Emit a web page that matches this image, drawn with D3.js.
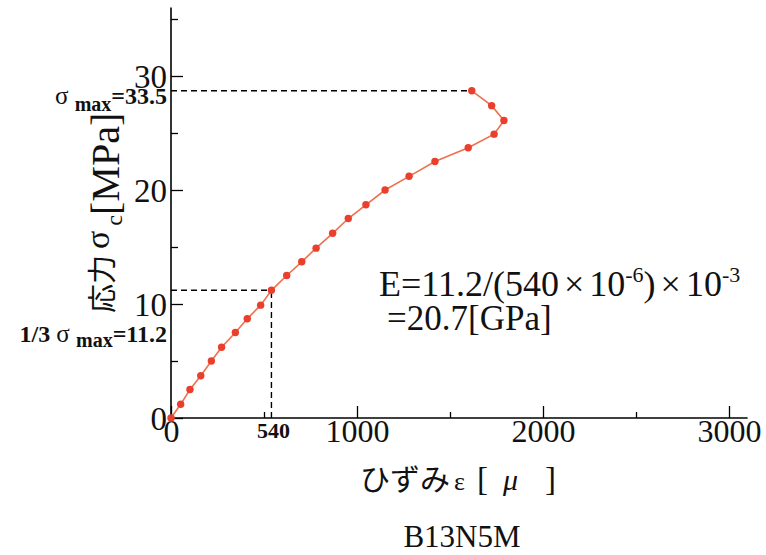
<!DOCTYPE html>
<html><head><meta charset="utf-8">
<script src="https://cdn.jsdelivr.net/npm/d3@7"></script>
<style>
html,body{margin:0;padding:0;background:#fff;}
svg{display:block;}
</style>
</head><body>
<svg id="chart" width="766" height="555"></svg>
<script>
// ---- data ----
const strain = [0, 52, 102, 160, 217, 272, 346, 410, 482, 540, 622, 703, 780, 869, 953, 1048, 1151, 1280, 1419, 1598, 1737, 1790, 1724, 1617];
const stress = [0, 1.2, 2.5, 3.7, 5.0, 6.2, 7.5, 8.7, 9.9, 11.2, 12.5, 13.7, 14.9, 16.2, 17.5, 18.7, 20.0, 21.2, 22.5, 23.7, 24.9, 26.1, 27.4, 28.7];
const xMajorTicks = [0, 1000, 2000, 3000];
const xMinorTicks = [500, 1500, 2500];
const yMajorTicks = [0, 10, 20, 30];
const yMinorTicks = [5, 15, 25, 35];
const sigmaMaxLabel = "33.5";
const thirdSigmaLabel = "11.2";
const strainAtThird = 540;
const stressAtThird = 11.2;
const specimen = "B13N5M";

const serif = "'Liberation Serif','Times New Roman',serif";
const cjk = "'Noto Sans CJK JP',sans-serif";

const svg = d3.select("#chart");
const x = d3.scaleLinear([0, 3000], [171, 729]);
const y = d3.scaleLinear([0, 35], [418, 19]);

// axis lines
svg.append("line").attr("x1", x(0)).attr("x2", x(3100)).attr("y1", y(0)).attr("y2", y(0))
  .attr("stroke", "#000").attr("stroke-width", 1.6);
svg.append("line").attr("x1", x(0)).attr("x2", x(0)).attr("y1", y(0)).attr("y2", y(36))
  .attr("stroke", "#000").attr("stroke-width", 1.6);

// x axis
const gx = svg.append("g").attr("transform", `translate(0,${y(0)})`)
  .call(d3.axisBottom(x).tickValues(xMajorTicks).tickSize(-12).tickSizeOuter(0).tickFormat(d3.format("d")));
gx.select(".domain").remove();
gx.selectAll(".tick line").attr("stroke", "#000").attr("stroke-width", 1.3);
gx.selectAll(".tick text").attr("y", 24).attr("dy", 0).attr("font-family", serif).attr("font-size", 32).attr("fill", "#111");
const gx2 = svg.append("g").attr("transform", `translate(0,${y(0)})`)
  .call(d3.axisBottom(x).tickValues(xMinorTicks).tickSize(-6).tickSizeOuter(0).tickFormat(""));
gx2.select(".domain").remove();
gx2.selectAll(".tick line").attr("stroke", "#000").attr("stroke-width", 1.3);

// y axis
const gy = svg.append("g").attr("transform", `translate(${x(0)},0)`)
  .call(d3.axisLeft(y).tickValues(yMajorTicks).tickSize(-12).tickSizeOuter(0).tickPadding(4).tickFormat(d3.format("d")));
gy.select(".domain").remove();
gy.selectAll(".tick line").attr("stroke", "#000").attr("stroke-width", 1.3);
gy.selectAll(".tick text").attr("dy", "0.35em").attr("font-family", serif).attr("font-size", 33).attr("fill", "#111");
const gy2 = svg.append("g").attr("transform", `translate(${x(0)},0)`)
  .call(d3.axisLeft(y).tickValues(yMinorTicks).tickSize(-7).tickSizeOuter(0).tickFormat(""));
gy2.select(".domain").remove();
gy2.selectAll(".tick line").attr("stroke", "#000").attr("stroke-width", 1.3);

// dashed guides
const peakIdx = d3.maxIndex(stress);
const dash = "6,4";
svg.append("line").attr("x1", x(0)).attr("x2", x(strain[peakIdx])).attr("y1", y(stress[peakIdx])).attr("y2", y(stress[peakIdx]))
  .attr("stroke", "#000").attr("stroke-width", 1.4).attr("stroke-dasharray", dash);
svg.append("line").attr("x1", x(0)).attr("x2", x(strainAtThird)).attr("y1", y(stressAtThird)).attr("y2", y(stressAtThird))
  .attr("stroke", "#000").attr("stroke-width", 1.4).attr("stroke-dasharray", dash);
svg.append("line").attr("x1", x(strainAtThird)).attr("x2", x(strainAtThird)).attr("y1", y(0)).attr("y2", y(stressAtThird))
  .attr("stroke", "#000").attr("stroke-width", 1.4).attr("stroke-dasharray", dash);

// curve
const pts = strain.map((s, i) => [s, stress[i]]);
svg.append("path").datum(pts)
  .attr("d", d3.line().x(d => x(d[0])).y(d => y(d[1])))
  .attr("fill", "none").attr("stroke", "#f0704e").attr("stroke-width", 1.6);
svg.append("g").selectAll("circle").data(pts).join("circle")
  .attr("cx", d => x(d[0])).attr("cy", d => y(d[1])).attr("r", 3.7)
  .attr("fill", "#ea3f2c");

// 540 label
svg.append("text").attr("x", x(strainAtThird) + 2).attr("y", 438).attr("text-anchor", "middle")
  .attr("font-family", serif).attr("font-weight", "bold").attr("font-size", 22).attr("fill", "#111")
  .text(String(strainAtThird));

// sigma max annotation
const t1 = svg.append("text").attr("x", 167).attr("y", y(stress[peakIdx]) + 13).attr("text-anchor", "end")
  .attr("font-family", serif).attr("font-size", 24).attr("font-weight", "bold").attr("fill", "#111");
t1.append("tspan").attr("font-weight", "normal").attr("font-size", 25).text("σ ");
t1.append("tspan").attr("font-size", 20).attr("dy", 7).text("max");
t1.append("tspan").attr("dy", -7).text("=" + sigmaMaxLabel);

const t2 = svg.append("text").attr("x", 167).attr("y", 342).attr("text-anchor", "end")
  .attr("font-family", serif).attr("font-size", 24).attr("font-weight", "bold").attr("fill", "#111");
t2.append("tspan").text("1/3 ");
t2.append("tspan").attr("font-weight", "normal").attr("font-size", 25).text("σ ");
t2.append("tspan").attr("font-size", 20).attr("dy", 5).text("max");
t2.append("tspan").attr("dy", -5).text("=" + thirdSigmaLabel);

// equation
const eq = svg.append("text").attr("x", 379).attr("y", 296)
  .attr("font-family", serif).attr("font-size", 36).attr("fill", "#111");
eq.append("tspan").text("E=11.2/(540");
eq.append("tspan").attr("dx", 5).text("×");
eq.append("tspan").attr("dx", 5).text("10");
eq.append("tspan").attr("font-size", 22).attr("dy", -14).text("-6");
eq.append("tspan").attr("dy", 14).text(")");
eq.append("tspan").attr("dx", 5).text("×");
eq.append("tspan").attr("dx", 5).text("10");
eq.append("tspan").attr("font-size", 22).attr("dy", -14).text("-3");
svg.append("text").attr("x", 387).attr("y", 330)
  .attr("font-family", serif).attr("font-size", 35).attr("fill", "#111").text("=20.7[GPa]");

// x axis title
const xt = svg.append("text").attr("y", 490).attr("fill", "#111").attr("font-size", 30);
xt.append("tspan").attr("x", 360).attr("font-family", cjk).text("ひずみ");
xt.append("tspan").attr("x", 454).attr("font-family", serif).attr("font-size", 26).text("ε");
xt.append("tspan").attr("x", 477).attr("font-family", serif).attr("font-size", 33).text("[");
xt.append("tspan").attr("x", 503).attr("font-family", serif).attr("font-style", "italic").attr("font-size", 30).text("μ");
xt.append("tspan").attr("x", 545).attr("font-family", serif).attr("font-size", 33).text("]");

// y axis title
const yt = svg.append("text").attr("transform", "translate(113,313) rotate(-90)").attr("fill", "#111");
yt.append("tspan").attr("font-family", cjk).attr("font-size", 29).text("応力");
yt.append("tspan").attr("font-family", serif).attr("font-size", 34).attr("dx", 6).attr("dy", -4).text("σ");
yt.append("tspan").attr("font-family", serif).attr("font-size", 24).attr("dx", 5).attr("dy", 13).text("c");
yt.append("tspan").attr("font-family", serif).attr("font-size", 40).attr("dy", -3).text("[MPa]");

// specimen label
svg.append("text").attr("x", 462).attr("y", 547).attr("text-anchor", "middle")
  .attr("font-family", serif).attr("font-size", 31).attr("fill", "#111").text(specimen);
</script>
</body></html>
